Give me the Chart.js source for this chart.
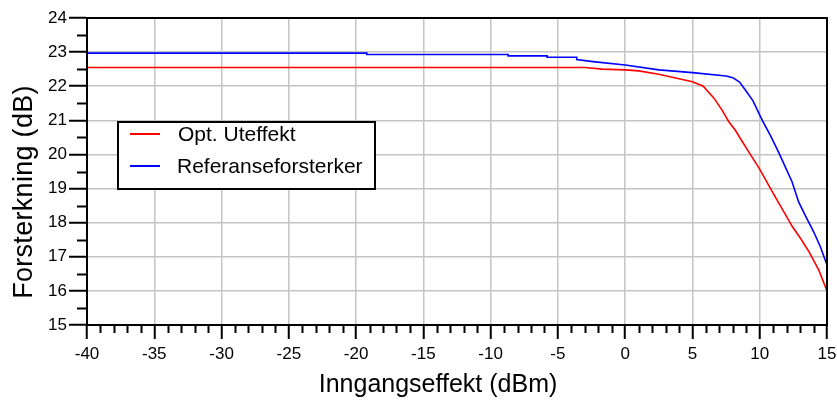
<!DOCTYPE html>
<html lang="no">
<head>
    <title>Forsterkning</title>
    <script src="https://cdn.jsdelivr.net/npm/chart.js@4.4.0/dist/chart.umd.min.js"></script>
    <style>
        body { margin: 0; background: #fff; }
        #wrap { width: 837px; height: 405px; }
    </style>
</head>
<body>
<div id="wrap"><canvas id="graf"></canvas></div>

<script>
    // data lest av fra figuren
    var seriesNames = ['Opt. Uteffekt', 'Referanseforsterker'];
    var seriesColors = ['rgb(255, 0, 0)', 'rgb(0, 0, 255)'];

    var redX = [-40, -3, -1.7, 0, 1, 2.5, 4, 5, 5.8, 6.6, 7.2, 7.7, 8.2, 8.7, 9.3, 9.95, 10.9, 11.6, 12.4, 13.1, 13.7, 14.4, 15];
    var redY = [22.55, 22.55, 22.5, 22.48, 22.45, 22.35, 22.22, 22.13, 22.0, 21.65, 21.3, 20.96, 20.7, 20.38, 20.0, 19.6, 18.93, 18.45, 17.9, 17.5, 17.12, 16.6, 16.0];

    var blueX = [-40, -19.2, -19.2, -8.7, -8.7, -5.8, -5.8, -3.6, -3.6, -2.4, 0, 2.5, 5, 7.5, 8, 8.5, 9, 9.5, 10.2, 10.8, 11.4, 12.4, 12.9, 13.4, 14, 14.5, 15];
    var blueY = [22.97, 22.97, 22.93, 22.93, 22.89, 22.89, 22.85, 22.85, 22.78, 22.72, 22.62, 22.48, 22.4, 22.3, 22.25, 22.12, 21.85, 21.57, 20.99, 20.55, 20.07, 19.2, 18.6, 18.2, 17.74, 17.3, 16.76];

    var xTitle = 'Inngangseffekt (dBm)';
    var yTitle = 'Forsterkning (dB)';

    function toPoints(xs, ys) {
        var pts = [];
        xs.forEach(function (x, i) {
            pts.push({x: x, y: ys[i]});
        });
        return pts;
    }

    // små streker, ramme, tegnforklaring og aksetitler
    var ekstra = {
        id: 'ekstra',
        afterDraw: function (chart) {
            var c = chart.ctx;
            var a = chart.chartArea;
            var sx = chart.scales.x;
            var sy = chart.scales.y;
            c.save();
            c.strokeStyle = '#000';
            c.lineWidth = 2;
            c.beginPath();
            for (var v = -40; v <= 15; v++) {
                if (v % 5 === 0) continue;
                var px = Math.round(sx.getPixelForValue(v)) + 0.5;
                c.moveTo(px, a.bottom);
                c.lineTo(px, a.bottom + 8);
            }
            for (var w = 15.5; w < 24; w++) {
                var py = Math.round(sy.getPixelForValue(w)) + 0.5;
                c.moveTo(a.left, py);
                c.lineTo(a.left - 10, py);
            }
            c.stroke();
            c.strokeRect(a.left, a.top, a.right - a.left, a.bottom - a.top);

            // tegnforklaring
            c.lineWidth = 2;
            c.fillStyle = '#fff';
            c.fillRect(118, 122, 257, 67);
            c.strokeRect(118, 122, 257, 67);
            c.font = '21px "Liberation Sans", Arial, sans-serif';
            c.textBaseline = 'middle';
            var rows = [134, 166];
            seriesNames.forEach(function (n, i) {
                c.strokeStyle = seriesColors[i];
                c.beginPath();
                c.moveTo(130, rows[i]);
                c.lineTo(160, rows[i]);
                c.stroke();
                c.fillStyle = '#000';
                c.fillText(n, i === 0 ? 178 : 177, rows[i] + 1);
            });

            // aksetitler
            c.fillStyle = '#000';
            c.textAlign = 'center';
            c.textBaseline = 'middle';
            c.font = '25px "Liberation Sans", Arial, sans-serif';
            c.fillText(xTitle, 438, 385);
            c.font = '27px "Liberation Sans", Arial, sans-serif';
            c.letterSpacing = '0.3px';
            c.translate(25, 192);
            c.rotate(-Math.PI / 2);
            c.fillText(yTitle, 0, 0);
            c.restore();
        }
    };

    var tickFont = {family: '"Liberation Sans", Arial, sans-serif', size: 17};

    var ctx = document.getElementById('graf').getContext('2d');
    var chart = new Chart(ctx, {
        type: 'line',
        data: {
            datasets: [{
                label: seriesNames[0],
                data: toPoints(redX, redY),
                borderColor: seriesColors[0],
                borderWidth: 1.6,
                pointRadius: 0,
                tension: 0
            }, {
                label: seriesNames[1],
                data: toPoints(blueX, blueY),
                borderColor: seriesColors[1],
                borderWidth: 1.6,
                pointRadius: 0,
                tension: 0
            }]
        },
        options: {
            responsive: true,
            maintainAspectRatio: false,
            animation: false,
            layout: {padding: {left: 0, top: 18, right: 10, bottom: 0}},
            plugins: {legend: {display: false}, tooltip: {enabled: false}},
            scales: {
                x: {
                    type: 'linear',
                    min: -40,
                    max: 15,
                    afterFit: function (s) {
                        s.height = 80;
                        s.paddingLeft = 0;
                        s.paddingRight = 0;
                    },
                    ticks: {
                        stepSize: 5,
                        padding: 5,
                        maxRotation: 0,
                        color: '#000',
                        font: tickFont
                    },
                    grid: {color: '#c4c4c4', lineWidth: 1.5, tickColor: '#000', tickWidth: 2, tickLength: 14},
                    border: {color: '#000', width: 2}
                },
                y: {
                    min: 15,
                    max: 24,
                    afterFit: function (s) {
                        s.width = 87;
                        s.paddingTop = 0;
                        s.paddingBottom = 0;
                    },
                    ticks: {
                        stepSize: 1,
                        padding: 2,
                        color: '#000',
                        font: tickFont
                    },
                    grid: {color: '#c4c4c4', lineWidth: 1.5, tickColor: '#000', tickWidth: 2, tickLength: 18},
                    border: {color: '#000', width: 2}
                }
            }
        },
        plugins: [ekstra]
    });
</script>
</body>
</html>
